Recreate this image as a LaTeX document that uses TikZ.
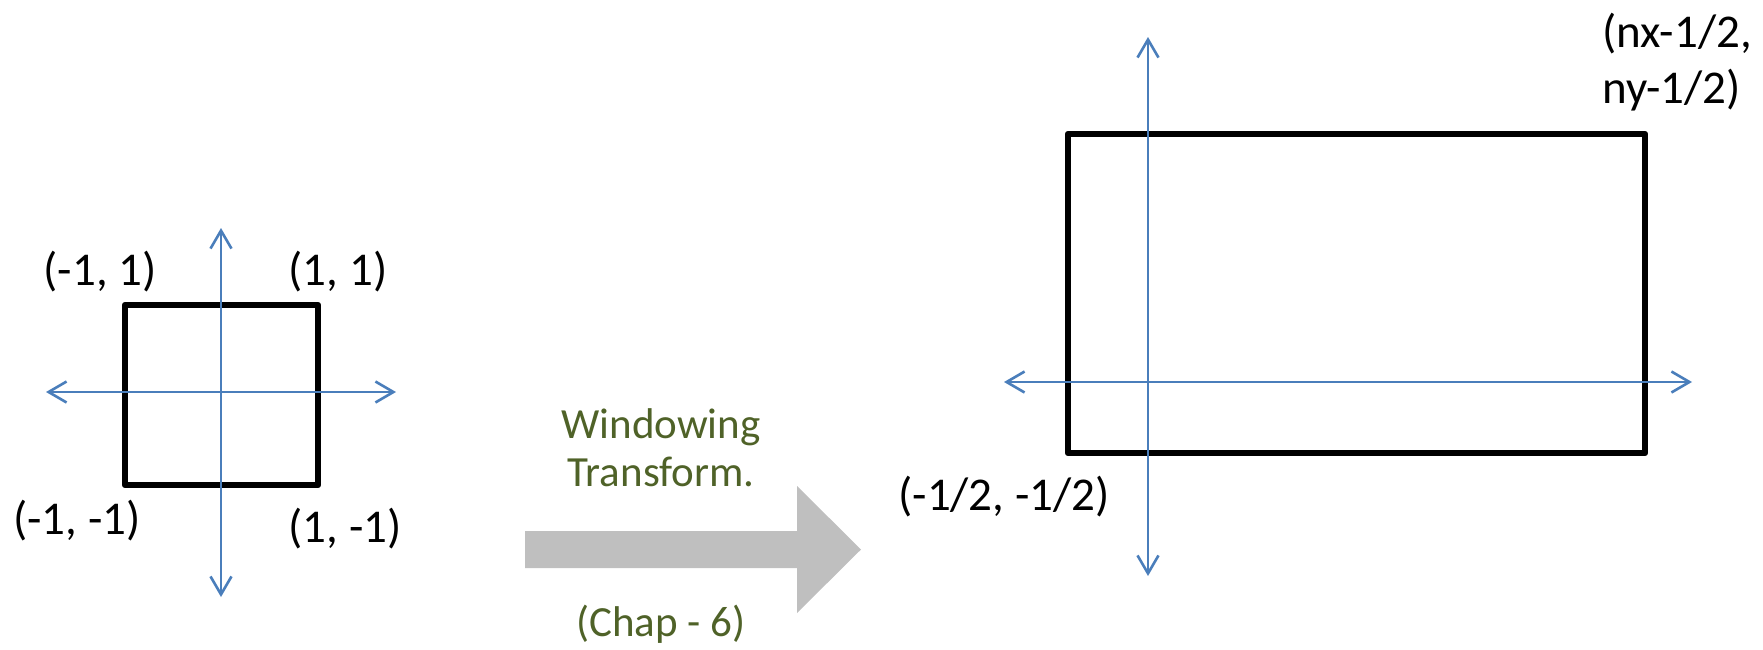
\documentclass[tikz,border=0pt]{standalone}
\usepackage{fontspec}
\setmainfont{Carlito}
\usetikzlibrary{arrows.meta}
\definecolor{axisblue}{HTML}{4A7EBB}
\definecolor{olive}{HTML}{4F6228}
\definecolor{arrowgray}{HTML}{BFBFBF}
\tikzset{
  axis/.style={draw=axisblue, line width=1.3pt, {Straight Barb[length=9pt,width=10.5pt]}-{Straight Barb[length=9pt,width=10.5pt]}},
  frame/.style={draw=black, line width=3.2pt, line join=round},
  lbl/.style={font=\fontsize{23.5}{28}\selectfont, inner sep=0pt, text=black},
  note/.style={font=\fontsize{21.5}{24}\selectfont, inner sep=0pt, text=olive, align=center},
}
\begin{document}
\begin{tikzpicture}[x=0.5pt, y=-0.5pt]
\useasboundingbox (0,0) rectangle (1763,649);
% left square
\draw[frame] (125,305) rectangle (318,485);
\coordinate (lxl) at (46,392);
\coordinate (lxr) at (396,392);
\coordinate (lyt) at (221,228);
\coordinate (lyb) at (221,597);
\draw[axis] (lxl) -- (lxr);
\draw[axis] (lyb) -- (lyt);
\node[lbl] (tl) at (100,272) {(-1, 1)};
\node[lbl] (tr) at (338,272) {(1, 1)};
\node[lbl] (bl) at (77,521) {(-1, -1)};
\node[lbl] (br) at (345,529) {(1, -1)};
% big arrow
\fill[arrowgray] (525,531) -- (797,531) -- (797,486) -- (861,549.5) -- (797,613) -- (797,568) -- (525,568) -- cycle;
\node[note] (wt) at (661,448) {Windowing\\Transform.};
\node[note] (ch) at (661,624) {(Chap - 6)};
% right rectangle
\draw[frame] (1068,134) rectangle (1645,453);
\coordinate (rxl) at (1004,382);
\coordinate (rxr) at (1692,382);
\coordinate (ryt) at (1148,37);
\coordinate (ryb) at (1148,576);
\draw[axis] (rxl) -- (rxr);
\draw[axis] (ryb) -- (ryt);
\node[lbl, anchor=west, align=left] (ur) at (1602,62) {(nx-1/2,\\ny-1/2)};
\node[lbl] (ll) at (1004,497) {(-1/2, -1/2)};
\end{tikzpicture}
\end{document}
